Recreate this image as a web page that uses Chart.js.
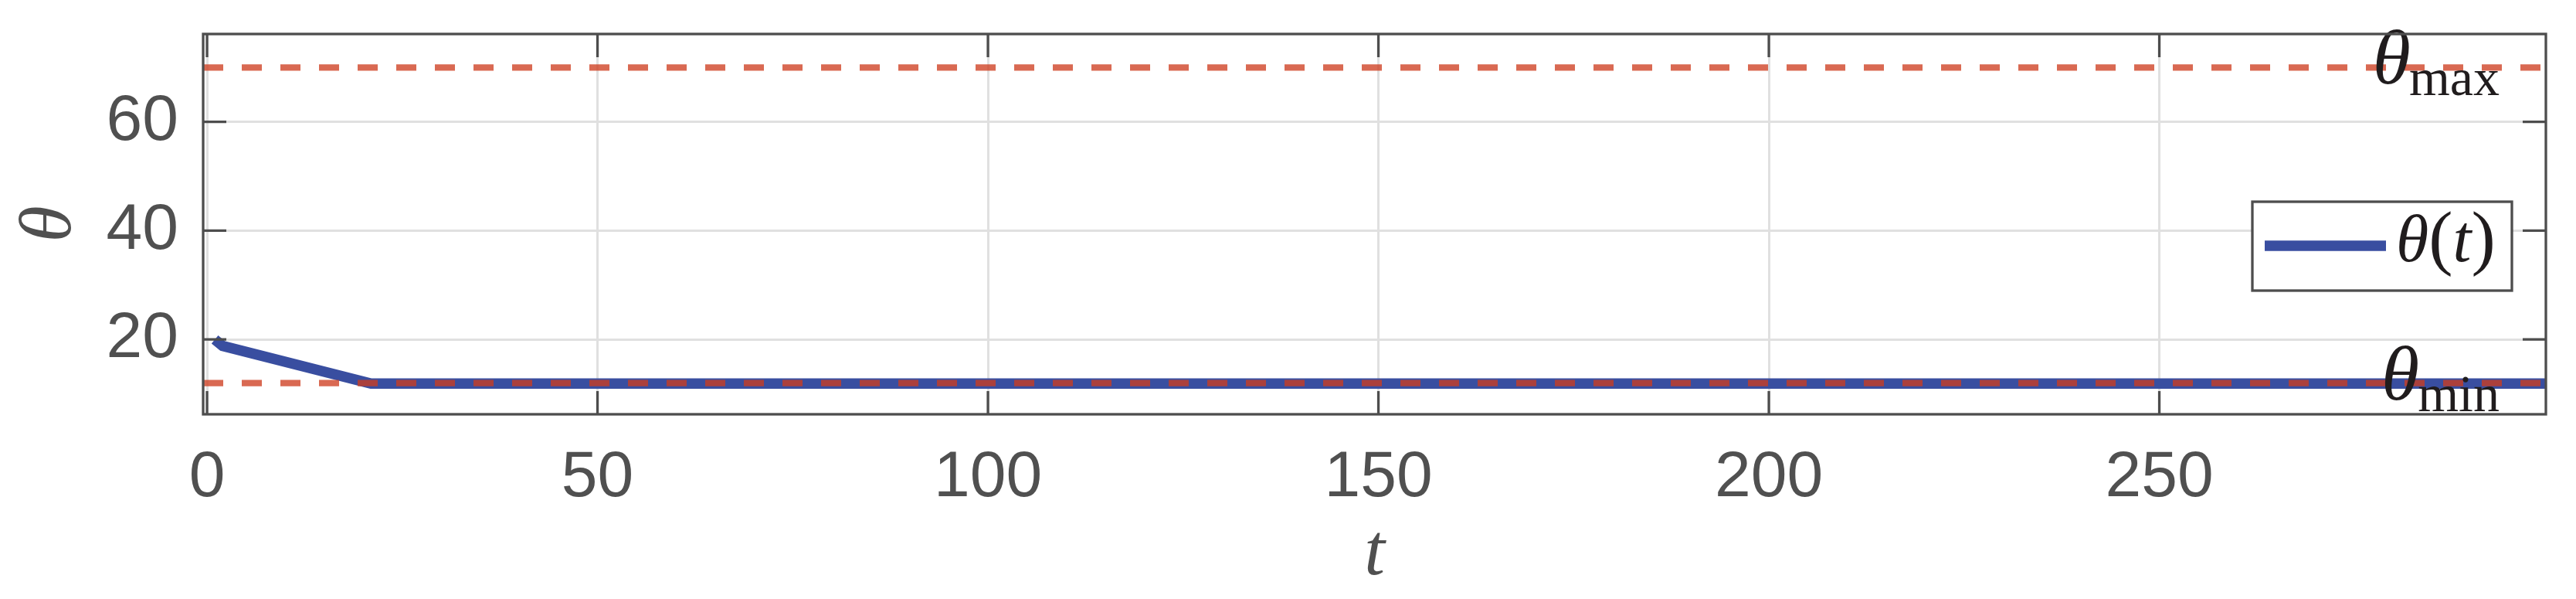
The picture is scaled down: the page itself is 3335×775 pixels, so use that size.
<!DOCTYPE html>
<html>
<head>
<meta charset="utf-8">
<script src="https://cdn.jsdelivr.net/npm/chart.js@4.4.1/dist/chart.umd.min.js"></script>
<style>
  body { margin: 0; background: #fff; }
  canvas { display: block; }
</style>
</head>
<body>
<canvas id="thetaChart" width="3335" height="775"></canvas>
<script>
// breakpoints of theta(t)
const tValues = [1, 2, 21, 300];
const thetaValues = [20.0, 18.8, 11.9, 11.9];

// bounds
const thetaMin = 12;
const thetaMax = 70;

// axes
const xRange = [-0.5, 299.5];
const yRange = [6.25, 76.15];
const xTicks = [0, 50, 100, 150, 200, 250];
const yTicks = [20, 40, 60];

const axisGrey = "#505050";
const frameGrey = "#4d4d4d";
const inkBlack = "#201c1d";
const lineBlue = "#394ea0";
const boundRed = "rgba(205, 60, 30, 0.77)";

function boundLine(value) {
  return xRange.map((x) => ({ x: x, y: value }));
}

// frame, inward ticks, legend box and bound labels
const decorations = {
  id: "decorations",
  afterDatasetsDraw(chart) {
    const { ctx, chartArea: a, scales } = chart;
    ctx.save();

    // bound labels
    const labels = [
      [thetaMax, "max"],
      [thetaMin, "min"],
    ];
    labels.forEach(([value, sub]) => {
      const py = scales.y.getPixelForValue(value);
      const right = a.right - 60;
      ctx.fillStyle = inkBlack;
      ctx.textBaseline = "alphabetic";
      ctx.textAlign = "right";
      ctx.font = "68px 'Liberation Serif'";
      ctx.fillText(sub, right, py + 36);
      const subW = ctx.measureText(sub).width;
      ctx.font = "italic 100px 'Liberation Serif'";
      ctx.fillText("θ", right - subW + 2, py + 21);
    });

    // legend
    const ds = chart.data.datasets[2];
    const boxR = a.right - 44;
    const boxL = boxR - 336;
    const boxT = a.top + 217;
    const boxH = 115;
    ctx.fillStyle = "#fff";
    ctx.fillRect(boxL, boxT, boxR - boxL, boxH);
    ctx.strokeStyle = frameGrey;
    ctx.lineWidth = 3.3;
    ctx.strokeRect(boxL, boxT, boxR - boxL, boxH);
    ctx.strokeStyle = ds.borderColor;
    ctx.lineWidth = ds.borderWidth;
    ctx.beginPath();
    ctx.moveTo(boxL + 16, boxT + 57);
    ctx.lineTo(boxL + 173, boxT + 57);
    ctx.stroke();
    ctx.fillStyle = inkBlack;
    ctx.textAlign = "left";
    let tx = boxL + 186;
    const base = boxT + 77;
    const parts = [
      ["θ", "italic 86px 'Liberation Serif'", 0],
      ["(", "94px 'Liberation Serif'", 0],
      ["t", "italic 86px 'Liberation Serif'", 0],
      [")", "94px 'Liberation Serif'", 0],
    ];
    parts.forEach(([s, f, gap]) => {
      ctx.font = f;
      ctx.fillText(s, tx, base);
      tx += ctx.measureText(s).width + gap;
    });

    ctx.restore();
  },
  afterDraw(chart) {
    const { ctx, chartArea: a, scales } = chart;
    ctx.save();
    ctx.strokeStyle = frameGrey;
    ctx.lineWidth = 3.3;
    ctx.beginPath();
    xTicks.forEach((v) => {
      const px = scales.x.getPixelForValue(v);
      ctx.moveTo(px, a.bottom);
      ctx.lineTo(px, a.bottom - 30);
      ctx.moveTo(px, a.top);
      ctx.lineTo(px, a.top + 30);
    });
    yTicks.forEach((v) => {
      const py = scales.y.getPixelForValue(v);
      ctx.moveTo(a.left, py);
      ctx.lineTo(a.left + 30, py);
      ctx.moveTo(a.right, py);
      ctx.lineTo(a.right - 30, py);
    });
    ctx.stroke();
    ctx.strokeRect(a.left, a.top, a.right - a.left, a.bottom - a.top);
    ctx.restore();
  },
};

const ctx = document.getElementById("thetaChart").getContext("2d");

new Chart(ctx, {
  type: "line",
  data: {
    datasets: [
      {
        label: "theta max",
        data: boundLine(thetaMax),
        borderColor: boundRed,
        borderWidth: 8.3,
        borderDash: [26, 24],
        pointRadius: 0,
        clip: 0,
        order: 1,
      },
      {
        label: "theta min",
        data: boundLine(thetaMin),
        borderColor: boundRed,
        borderWidth: 8.3,
        borderDash: [26, 24],
        pointRadius: 0,
        clip: 0,
        order: 1,
      },
      {
        label: "θ(t)",
        data: tValues.map((t, i) => ({ x: t, y: thetaValues[i] })),
        borderColor: lineBlue,
        borderWidth: 13.5,
        borderJoinStyle: "miter",
        borderCapStyle: "butt",
        pointRadius: 0,
        tension: 0,
        clip: 0,
        order: 2,
      },
    ],
  },
  options: {
    responsive: false,
    animation: false,
    layout: {
      padding: { top: 44, right: 39, left: 0, bottom: 0 },
    },
    plugins: {
      legend: { display: false },
      tooltip: { enabled: false },
    },
    scales: {
      x: {
        type: "linear",
        min: xRange[0],
        max: xRange[1],
        afterBuildTicks: (s) => {
          s.ticks = xTicks.map((v) => ({ value: v }));
        },
        afterFit: (s) => {
          s.height = 239;
          s.paddingLeft = 0;
          s.paddingRight = 0;
        },
        grid: { color: "#e0e0e0", lineWidth: 3, drawTicks: false },
        border: { display: false },
        ticks: {
          padding: 32,
          color: axisGrey,
          maxRotation: 0,
          font: { family: "'Liberation Sans'", size: 84 },
        },
        title: {
          display: true,
          text: "t",
          color: axisGrey,
          padding: { top: 0, bottom: 0 },
          font: { family: "'Liberation Serif'", style: "italic", size: 96 },
        },
      },
      y: {
        type: "linear",
        min: yRange[0],
        max: yRange[1],
        afterBuildTicks: (s) => {
          s.ticks = yTicks.map((v) => ({ value: v }));
        },
        afterFit: (s) => {
          s.width = 263;
          s.paddingTop = 0;
          s.paddingBottom = 0;
        },
        grid: { color: "#e0e0e0", lineWidth: 3, drawTicks: false },
        border: { display: false },
        ticks: {
          padding: 32,
          color: axisGrey,
          font: { family: "'Liberation Sans'", size: 84 },
        },
        title: {
          display: true,
          text: "θ",
          color: axisGrey,
          padding: { top: 8, bottom: 0 },
          font: { family: "'Liberation Serif'", style: "italic", size: 96 },
        },
      },
    },
  },
  plugins: [decorations],
});
</script>
</body>
</html>
